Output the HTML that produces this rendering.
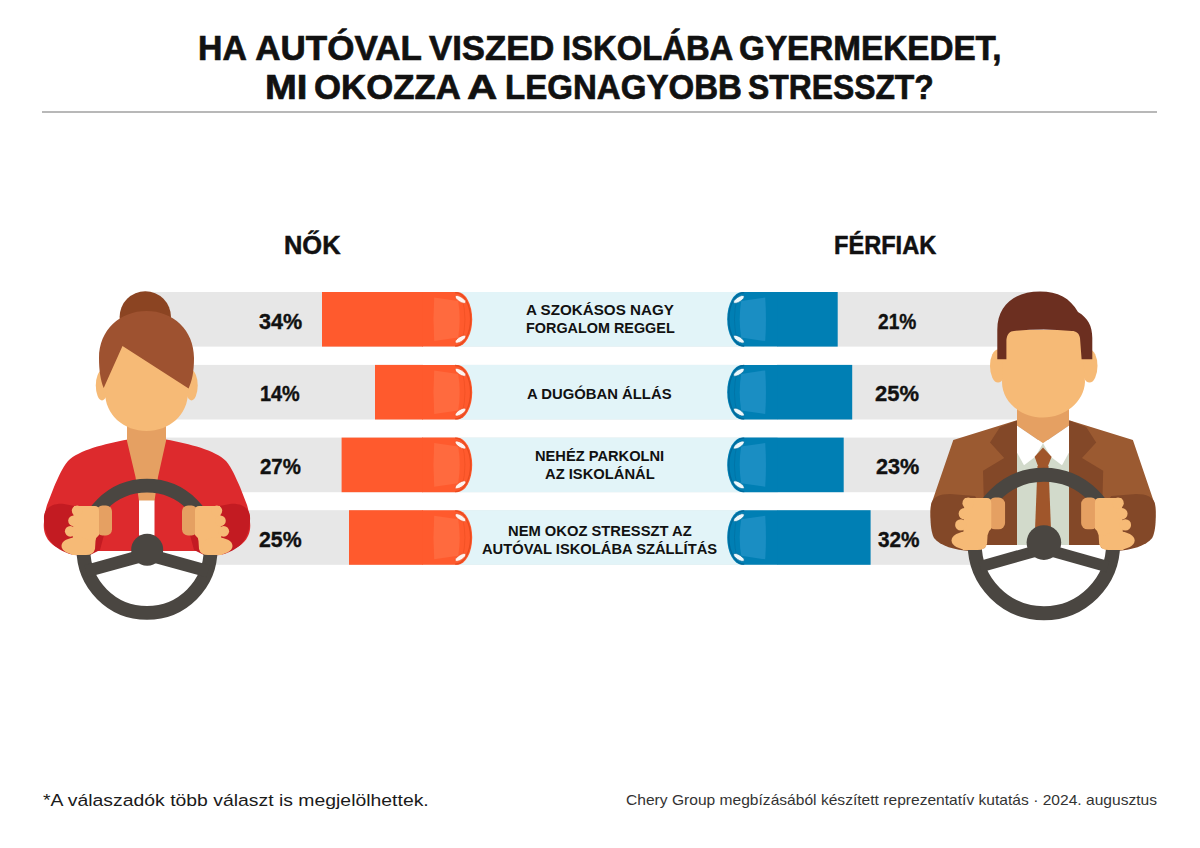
<!DOCTYPE html>
<html><head><meta charset="utf-8">
<style>
html,body{margin:0;padding:0;background:#fff;}
body{width:1200px;height:848px;position:relative;overflow:hidden;font-family:"Liberation Sans",sans-serif;color:#111;}
.a{position:absolute;}
.t{position:absolute;white-space:nowrap;line-height:1;transform-origin:0 0;}
.hr{position:absolute;left:42px;top:111px;width:1115px;height:2px;background:#b8b8b8;}
.gray{position:absolute;background:#e6e6e6;}
.lb{position:absolute;background:#e2f4f8;}
</style></head><body>
<div class="t" style="left:198.07px;top:30.4px;font-size:35px;transform:scaleX(0.9646);font-weight:bold;color:#111111;-webkit-text-stroke:0.7px #111111;">HA</div>
<div class="t" style="left:255.3px;top:30.4px;font-size:35px;transform:scaleX(1.0);font-weight:bold;color:#111111;-webkit-text-stroke:0.7px #111111;">AUTÓVAL</div>
<div class="t" style="left:428.8px;top:30.4px;font-size:35px;transform:scaleX(0.9921);font-weight:bold;color:#111111;-webkit-text-stroke:0.7px #111111;">VISZED</div>
<div class="t" style="left:561.93px;top:30.4px;font-size:35px;transform:scaleX(0.9372);font-weight:bold;color:#111111;-webkit-text-stroke:0.7px #111111;">ISKOLÁBA</div>
<div class="t" style="left:739.05px;top:30.4px;font-size:35px;transform:scaleX(0.9505);font-weight:bold;color:#111111;-webkit-text-stroke:0.7px #111111;">GYERMEKEDET,</div>
<div class="t" style="left:265.31px;top:68.75px;font-size:35px;transform:scaleX(1.0929);font-weight:bold;color:#111111;-webkit-text-stroke:0.7px #111111;">MI</div>
<div class="t" style="left:313.51px;top:68.75px;font-size:35px;transform:scaleX(0.9932);font-weight:bold;color:#111111;-webkit-text-stroke:0.7px #111111;">OKOZZA</div>
<div class="t" style="left:467.05px;top:68.75px;font-size:35px;transform:scaleX(1.1979);font-weight:bold;color:#111111;-webkit-text-stroke:0.7px #111111;">A</div>
<div class="t" style="left:505.11px;top:68.75px;font-size:35px;transform:scaleX(0.9446);font-weight:bold;color:#111111;-webkit-text-stroke:0.7px #111111;">LEGNAGYOBB</div>
<div class="t" style="left:747.84px;top:68.75px;font-size:35px;transform:scaleX(0.9097);font-weight:bold;color:#111111;-webkit-text-stroke:0.7px #111111;">STRESSZT?</div>
<div class="hr"></div>
<div class="t" style="left:284.4px;top:233.3px;font-size:25.4px;transform:scaleX(1.0018);font-weight:bold;color:#111111;-webkit-text-stroke:0.5px #111111;">NŐK</div>
<div class="t" style="left:834.27px;top:233.35px;font-size:25.4px;transform:scaleX(0.9294);font-weight:bold;color:#111111;-webkit-text-stroke:0.5px #111111;">FÉRFIAK</div>
<svg class="a" style="left:0;top:0" width="1200" height="848" viewBox="0 0 1200 848"><rect x="147" y="292.00" width="896" height="54.6" fill="#e7e7e7"/><rect x="460" y="292.00" width="280" height="54.6" fill="#e2f4f8"/><rect x="322" y="292.00" width="101" height="54.6" fill="#ff5a2d"/><g transform="translate(422.20,292.00)"><path d="M0,0 L35,0 A15,27.30 0 0 1 35,54.60 L0,54.60 Z" fill="#ff5a2d"/><path d="M33,0.6 A15.4,26.70 0 0 1 33,54.00" fill="none" stroke="#e84a1e" stroke-width="1.3"/><path d="M40,6 Q45.5,27.30 40,48.60" fill="none" stroke="#e84a1e" stroke-width="0.8" opacity="0.6"/><path d="M12,5.5 L36,9 Q39,27.30 36,45.60 L12,49.10 Q10.5,27.30 12,5.5 Z" fill="#ff6a3e"/><ellipse cx="38.3" cy="7.4" rx="6.2" ry="2.4" transform="rotate(33 38.3 7.4)" fill="#fff3ee" stroke="#e84a1e" stroke-width="0.6"/><ellipse cx="38.3" cy="47.20" rx="6.2" ry="2.4" transform="rotate(-33 38.3 47.20)" fill="#fff3ee" stroke="#e84a1e" stroke-width="0.6"/></g><rect x="777" y="292.00" width="60.70" height="54.6" fill="#007fb4"/><g transform="translate(777.20,292.00) scale(-1,1)"><path d="M0,0 L35,0 A15,27.30 0 0 1 35,54.60 L0,54.60 Z" fill="#007fb4"/><path d="M33,0.6 A15.4,26.70 0 0 1 33,54.00" fill="none" stroke="#00699a" stroke-width="1.3"/><path d="M40,6 Q45.5,27.30 40,48.60" fill="none" stroke="#00699a" stroke-width="0.8" opacity="0.6"/><path d="M12,5.5 L36,9 Q39,27.30 36,45.60 L12,49.10 Q10.5,27.30 12,5.5 Z" fill="#1a8ec3"/><ellipse cx="38.3" cy="7.4" rx="6.2" ry="2.4" transform="rotate(33 38.3 7.4)" fill="#eef8fc" stroke="#00699a" stroke-width="0.6"/><ellipse cx="38.3" cy="47.20" rx="6.2" ry="2.4" transform="rotate(-33 38.3 47.20)" fill="#eef8fc" stroke="#00699a" stroke-width="0.6"/></g><rect x="147" y="364.90" width="896" height="54.6" fill="#e7e7e7"/><rect x="460" y="364.90" width="280" height="54.6" fill="#e2f4f8"/><rect x="375" y="364.90" width="48" height="54.6" fill="#ff5a2d"/><g transform="translate(422.20,364.90)"><path d="M0,0 L35,0 A15,27.30 0 0 1 35,54.60 L0,54.60 Z" fill="#ff5a2d"/><path d="M33,0.6 A15.4,26.70 0 0 1 33,54.00" fill="none" stroke="#e84a1e" stroke-width="1.3"/><path d="M40,6 Q45.5,27.30 40,48.60" fill="none" stroke="#e84a1e" stroke-width="0.8" opacity="0.6"/><path d="M12,5.5 L36,9 Q39,27.30 36,45.60 L12,49.10 Q10.5,27.30 12,5.5 Z" fill="#ff6a3e"/><ellipse cx="38.3" cy="7.4" rx="6.2" ry="2.4" transform="rotate(33 38.3 7.4)" fill="#fff3ee" stroke="#e84a1e" stroke-width="0.6"/><ellipse cx="38.3" cy="47.20" rx="6.2" ry="2.4" transform="rotate(-33 38.3 47.20)" fill="#fff3ee" stroke="#e84a1e" stroke-width="0.6"/></g><rect x="777" y="364.90" width="75.20" height="54.6" fill="#007fb4"/><g transform="translate(777.20,364.90) scale(-1,1)"><path d="M0,0 L35,0 A15,27.30 0 0 1 35,54.60 L0,54.60 Z" fill="#007fb4"/><path d="M33,0.6 A15.4,26.70 0 0 1 33,54.00" fill="none" stroke="#00699a" stroke-width="1.3"/><path d="M40,6 Q45.5,27.30 40,48.60" fill="none" stroke="#00699a" stroke-width="0.8" opacity="0.6"/><path d="M12,5.5 L36,9 Q39,27.30 36,45.60 L12,49.10 Q10.5,27.30 12,5.5 Z" fill="#1a8ec3"/><ellipse cx="38.3" cy="7.4" rx="6.2" ry="2.4" transform="rotate(33 38.3 7.4)" fill="#eef8fc" stroke="#00699a" stroke-width="0.6"/><ellipse cx="38.3" cy="47.20" rx="6.2" ry="2.4" transform="rotate(-33 38.3 47.20)" fill="#eef8fc" stroke="#00699a" stroke-width="0.6"/></g><rect x="147" y="437.60" width="896" height="54.6" fill="#e7e7e7"/><rect x="460" y="437.60" width="280" height="54.6" fill="#e2f4f8"/><rect x="341.6" y="437.60" width="81.39999999999998" height="54.6" fill="#ff5a2d"/><g transform="translate(422.20,437.60)"><path d="M0,0 L35,0 A15,27.30 0 0 1 35,54.60 L0,54.60 Z" fill="#ff5a2d"/><path d="M33,0.6 A15.4,26.70 0 0 1 33,54.00" fill="none" stroke="#e84a1e" stroke-width="1.3"/><path d="M40,6 Q45.5,27.30 40,48.60" fill="none" stroke="#e84a1e" stroke-width="0.8" opacity="0.6"/><path d="M12,5.5 L36,9 Q39,27.30 36,45.60 L12,49.10 Q10.5,27.30 12,5.5 Z" fill="#ff6a3e"/><ellipse cx="38.3" cy="7.4" rx="6.2" ry="2.4" transform="rotate(33 38.3 7.4)" fill="#fff3ee" stroke="#e84a1e" stroke-width="0.6"/><ellipse cx="38.3" cy="47.20" rx="6.2" ry="2.4" transform="rotate(-33 38.3 47.20)" fill="#fff3ee" stroke="#e84a1e" stroke-width="0.6"/></g><rect x="777" y="437.60" width="66.70" height="54.6" fill="#007fb4"/><g transform="translate(777.20,437.60) scale(-1,1)"><path d="M0,0 L35,0 A15,27.30 0 0 1 35,54.60 L0,54.60 Z" fill="#007fb4"/><path d="M33,0.6 A15.4,26.70 0 0 1 33,54.00" fill="none" stroke="#00699a" stroke-width="1.3"/><path d="M40,6 Q45.5,27.30 40,48.60" fill="none" stroke="#00699a" stroke-width="0.8" opacity="0.6"/><path d="M12,5.5 L36,9 Q39,27.30 36,45.60 L12,49.10 Q10.5,27.30 12,5.5 Z" fill="#1a8ec3"/><ellipse cx="38.3" cy="7.4" rx="6.2" ry="2.4" transform="rotate(33 38.3 7.4)" fill="#eef8fc" stroke="#00699a" stroke-width="0.6"/><ellipse cx="38.3" cy="47.20" rx="6.2" ry="2.4" transform="rotate(-33 38.3 47.20)" fill="#eef8fc" stroke="#00699a" stroke-width="0.6"/></g><rect x="147" y="510.20" width="896" height="54.6" fill="#e7e7e7"/><rect x="460" y="510.20" width="280" height="54.6" fill="#e2f4f8"/><rect x="349" y="510.20" width="74" height="54.6" fill="#ff5a2d"/><g transform="translate(422.20,510.20)"><path d="M0,0 L35,0 A15,27.30 0 0 1 35,54.60 L0,54.60 Z" fill="#ff5a2d"/><path d="M33,0.6 A15.4,26.70 0 0 1 33,54.00" fill="none" stroke="#e84a1e" stroke-width="1.3"/><path d="M40,6 Q45.5,27.30 40,48.60" fill="none" stroke="#e84a1e" stroke-width="0.8" opacity="0.6"/><path d="M12,5.5 L36,9 Q39,27.30 36,45.60 L12,49.10 Q10.5,27.30 12,5.5 Z" fill="#ff6a3e"/><ellipse cx="38.3" cy="7.4" rx="6.2" ry="2.4" transform="rotate(33 38.3 7.4)" fill="#fff3ee" stroke="#e84a1e" stroke-width="0.6"/><ellipse cx="38.3" cy="47.20" rx="6.2" ry="2.4" transform="rotate(-33 38.3 47.20)" fill="#fff3ee" stroke="#e84a1e" stroke-width="0.6"/></g><rect x="777" y="510.20" width="93.60" height="54.6" fill="#007fb4"/><g transform="translate(777.20,510.20) scale(-1,1)"><path d="M0,0 L35,0 A15,27.30 0 0 1 35,54.60 L0,54.60 Z" fill="#007fb4"/><path d="M33,0.6 A15.4,26.70 0 0 1 33,54.00" fill="none" stroke="#00699a" stroke-width="1.3"/><path d="M40,6 Q45.5,27.30 40,48.60" fill="none" stroke="#00699a" stroke-width="0.8" opacity="0.6"/><path d="M12,5.5 L36,9 Q39,27.30 36,45.60 L12,49.10 Q10.5,27.30 12,5.5 Z" fill="#1a8ec3"/><ellipse cx="38.3" cy="7.4" rx="6.2" ry="2.4" transform="rotate(33 38.3 7.4)" fill="#eef8fc" stroke="#00699a" stroke-width="0.6"/><ellipse cx="38.3" cy="47.20" rx="6.2" ry="2.4" transform="rotate(-33 38.3 47.20)" fill="#eef8fc" stroke="#00699a" stroke-width="0.6"/></g></svg>
<div class="t" style="left:259.0px;top:310.65px;font-size:22.4px;transform:scaleX(0.9622);font-weight:bold;color:#111111;-webkit-text-stroke:0.4px #111111;">34%</div>
<div class="t" style="left:878.25px;top:310.65px;font-size:22.4px;transform:scaleX(0.8545);font-weight:bold;color:#111111;-webkit-text-stroke:0.4px #111111;">21%</div>
<div class="t" style="left:260.31px;top:383.45px;font-size:22.4px;transform:scaleX(0.8864);font-weight:bold;color:#111111;-webkit-text-stroke:0.4px #111111;">14%</div>
<div class="t" style="left:874.92px;top:383.45px;font-size:22.4px;transform:scaleX(0.9795);font-weight:bold;color:#111111;-webkit-text-stroke:0.4px #111111;">25%</div>
<div class="t" style="left:259.89px;top:456.15px;font-size:22.4px;transform:scaleX(0.9114);font-weight:bold;color:#111111;-webkit-text-stroke:0.4px #111111;">27%</div>
<div class="t" style="left:875.64px;top:456.15px;font-size:22.4px;transform:scaleX(0.9636);font-weight:bold;color:#111111;-webkit-text-stroke:0.4px #111111;">23%</div>
<div class="t" style="left:259.05px;top:528.85px;font-size:22.4px;transform:scaleX(0.95);font-weight:bold;color:#111111;-webkit-text-stroke:0.4px #111111;">25%</div>
<div class="t" style="left:878.2px;top:528.85px;font-size:22.4px;transform:scaleX(0.9267);font-weight:bold;color:#111111;-webkit-text-stroke:0.4px #111111;">32%</div>
<div class="t" style="left:526.01px;top:301.85px;font-size:15.3px;transform:scaleX(0.9918);font-weight:bold;color:#111111;">A SZOKÁSOS NAGY</div>
<div class="t" style="left:525.56px;top:320.4px;font-size:15.3px;transform:scaleX(0.9408);font-weight:bold;color:#111111;">FORGALOM REGGEL</div>
<div class="t" style="left:527.43px;top:385.6px;font-size:15.3px;transform:scaleX(0.9701);font-weight:bold;color:#111111;">A DUGÓBAN ÁLLÁS</div>
<div class="t" style="left:535.14px;top:447.8px;font-size:15.3px;transform:scaleX(0.9579);font-weight:bold;color:#111111;">NEHÉZ PARKOLNI</div>
<div class="t" style="left:544.84px;top:466.45px;font-size:15.3px;transform:scaleX(0.9634);font-weight:bold;color:#111111;">AZ ISKOLÁNÁL</div>
<div class="t" style="left:507.94px;top:522.7px;font-size:15.3px;transform:scaleX(0.9635);font-weight:bold;color:#111111;">NEM OKOZ STRESSZT AZ</div>
<div class="t" style="left:482.34px;top:541.3px;font-size:15.3px;transform:scaleX(0.9617);font-weight:bold;color:#111111;">AUTÓVAL ISKOLÁBA SZÁLLÍTÁS</div>
<div class="t" style="left:43.05px;top:793.0px;font-size:16.9px;transform:scaleX(1.1476);color:#1a1a1a;">*A válaszadók több választ is megjelölhettek.</div>
<div class="t" style="left:625.61px;top:793.3px;font-size:14.3px;transform:scaleX(1.0901);color:#333333;">Chery Group megbízásából készített reprezentatív kutatás · 2024. augusztus</div>
<svg class="a" style="left:0;top:0" width="1200" height="848" viewBox="0 0 1200 848"><circle cx="147" cy="548" r="64" fill="#ffffff"/><circle cx="145.3" cy="317" r="25.7" fill="#8b4422"/><path d="M128,439.5 C104,444 79,450 68,461 C62,468 58,478 54,487 L47,505 C45,512 44,517 44,522 C42,537 52,550 72,551 L222,551 C242,550 252,537 250,522 C250,517 249,512 247,505 L240,487 C236,478 232,468 226,461 C215,450 190,444 166,439.5 Z" fill="#dd2a2d"/><path d="M44,516 C45,507 54,503 64,504 L80,507 L100,514 L104,535 L100,550 L88,556 L74,555 C56,551 43,540 44,516 Z" fill="#c31b22"/><path transform="translate(294,0) scale(-1,1)" d="M44,516 C45,507 54,503 64,504 L80,507 L100,514 L104,535 L100,550 L88,556 L74,555 C56,551 43,540 44,516 Z" fill="#c31b22"/><path d="M127,415 L166,415 L166,441 L158,477 L154.5,501 L139,501 L135.5,477 L127,441 Z" fill="#e5a062"/><rect x="139" y="500.5" width="15.5" height="35" fill="#ffffff"/><ellipse cx="102" cy="385.5" rx="6.2" ry="15" fill="#f6ba76"/><ellipse cx="191.5" cy="385.5" rx="6.2" ry="15" fill="#f6ba76"/><path d="M105,345 L105,392 C105,415 124,431 146.5,431 C169,431 188,415 188,392 L188,345 Z" fill="#f6ba76"/><path d="M103.7,388 C100.5,380 99,370 99,358 C99,330 120,311 146.5,311 C173,311 194,330 194,358 C194,372 192,381 188.6,388.5 L122.5,346 Z" fill="#9e5230"/><circle cx="147" cy="549.3" r="63.6" fill="none" stroke="#4a4641" stroke-width="13.8"/><path d="M147,554.4 L86,571.2" stroke="#4a4641" stroke-width="12.5"/><path d="M147,554.4 L208,571.2" stroke="#4a4641" stroke-width="12.5"/><circle cx="147.2" cy="549.8" r="16" fill="#4a4641"/><g transform="translate(61,505) scale(1.0)"><rect x="35.5" y="0.5" width="15.5" height="30" rx="6" fill="#e5a062"/><path d="M13,1 L34,1 Q38,1 38,6 L38,30 Q35,32 34.5,36 L34,44 Q32.5,50 25,50 L11,50 Z" fill="#f6ba76"/><circle cx="16.2" cy="5.8" r="5.4" fill="#f6ba76"/><circle cx="12.6" cy="15.8" r="5.4" fill="#f6ba76"/><circle cx="9.3" cy="26.3" r="5.4" fill="#f6ba76"/><ellipse cx="16" cy="41" rx="15.5" ry="8.7" fill="#f6ba76"/></g><g transform="translate(233,505) scale(-1.0,1.0)"><rect x="35.5" y="0.5" width="15.5" height="30" rx="6" fill="#e5a062"/><path d="M13,1 L34,1 Q38,1 38,6 L38,30 Q35,32 34.5,36 L34,44 Q32.5,50 25,50 L11,50 Z" fill="#f6ba76"/><circle cx="16.2" cy="5.8" r="5.4" fill="#f6ba76"/><circle cx="12.6" cy="15.8" r="5.4" fill="#f6ba76"/><circle cx="9.3" cy="26.3" r="5.4" fill="#f6ba76"/><ellipse cx="16" cy="41" rx="15.5" ry="8.7" fill="#f6ba76"/></g></svg><svg class="a" style="left:0;top:0" width="1200" height="848" viewBox="0 0 1200 848"><circle cx="1043.9" cy="543.5" r="69" fill="#ffffff"/><path d="M1016,420.6 L953.3,440 L931,505 C929,520 933,535 945,543 C953,546 962,545 972,545 L1114,545 C1124,545 1133,546 1141,543 C1153,535 1157,520 1155,505 L1132.9,440 L1070,420.6 Z" fill="#9b5a31"/><path d="M1017,420.6 L1000,427 L990,442.5 L1004.2,458 L983,470.8 L985,545 L1017,545 Z" fill="#834828"/><path d="M931,505 C932,497 940,494 950,494 L975,496 L990,520 L985,548 L970,551 C955,550 940,546 934,538 C930,530 930,515 931,505 Z" fill="#834828"/><path transform="translate(2086.2,0) scale(-1,1)" d="M1017,420.6 L1000,427 L990,442.5 L1004.2,458 L983,470.8 L985,545 L1017,545 Z" fill="#834828"/><path transform="translate(2086.2,0) scale(-1,1)" d="M931,505 C932,497 940,494 950,494 L975,496 L990,520 L985,548 L970,551 C955,550 940,546 934,538 C930,530 930,515 931,505 Z" fill="#834828"/><rect x="1017" y="440" width="52" height="105" fill="#d2dacb"/><path d="M1017,400 L1069,400 L1069,425.5 L1043,443.2 L1017,425.5 Z" fill="#e5a062"/><path d="M1017,425.5 L1043,443.2 L1035.3,456.7 L1024,465.2 L1017,452.4 Z" fill="#ffffff"/><path d="M1069,425.5 L1043,443.2 L1050.7,456.7 L1062,465.2 L1069,452.4 Z" fill="#ffffff"/><path d="M1043,447.5 L1051.6,456.7 L1048,466 L1038,466 L1034.6,456.7 Z" fill="#a0562b"/><path d="M1037.5,466 L1048.5,466 L1051,530 L1035,530 Z" fill="#a0562b"/><ellipse cx="998" cy="366" rx="8" ry="16.5" fill="#f6ba76"/><ellipse cx="1089.5" cy="366" rx="8" ry="16.5" fill="#f6ba76"/><path d="M1004,338 Q1004,330 1013,330 L1073,330 Q1082,330 1082,338 L1085,382 C1084,402 1065,417.5 1043,417.5 C1021,417.5 1002,402 1002,382 Z" fill="#f6ba76"/><path d="M997.3,359.3 L997.3,330 C997.3,305 1015,291.5 1040,291.5 C1058,291.5 1070,298 1078,312 C1088,318 1092.3,326 1092.3,338 L1092.3,359.3 L1081.6,359.3 L1080,338 C1079,333 1076,331 1072,331 Q1043,328 1014,331 C1010,331 1007,334 1006.4,340 L1006.4,359.3 Z" fill="#6c2f20"/><circle cx="1043.9" cy="544" r="69.2" fill="none" stroke="#4a4641" stroke-width="14"/><path d="M1043.9,548.8 L980,566.7" stroke="#4a4641" stroke-width="11.5"/><path d="M1043.9,548.8 L1107.8,566.7" stroke="#4a4641" stroke-width="11.5"/><circle cx="1043.9" cy="542.6" r="17.3" fill="#4a4641"/><g transform="translate(951,497) scale(1.06)"><rect x="35.5" y="0.5" width="15.5" height="30" rx="6" fill="#e5a062"/><path d="M13,1 L34,1 Q38,1 38,6 L38,30 Q35,32 34.5,36 L34,44 Q32.5,50 25,50 L11,50 Z" fill="#f6ba76"/><circle cx="16.2" cy="5.8" r="5.4" fill="#f6ba76"/><circle cx="12.6" cy="15.8" r="5.4" fill="#f6ba76"/><circle cx="9.3" cy="26.3" r="5.4" fill="#f6ba76"/><ellipse cx="16" cy="41" rx="15.5" ry="8.7" fill="#f6ba76"/></g><g transform="translate(1135.2,497) scale(-1.06,1.06)"><rect x="35.5" y="0.5" width="15.5" height="30" rx="6" fill="#e5a062"/><path d="M13,1 L34,1 Q38,1 38,6 L38,30 Q35,32 34.5,36 L34,44 Q32.5,50 25,50 L11,50 Z" fill="#f6ba76"/><circle cx="16.2" cy="5.8" r="5.4" fill="#f6ba76"/><circle cx="12.6" cy="15.8" r="5.4" fill="#f6ba76"/><circle cx="9.3" cy="26.3" r="5.4" fill="#f6ba76"/><ellipse cx="16" cy="41" rx="15.5" ry="8.7" fill="#f6ba76"/></g></svg>
</body></html>
